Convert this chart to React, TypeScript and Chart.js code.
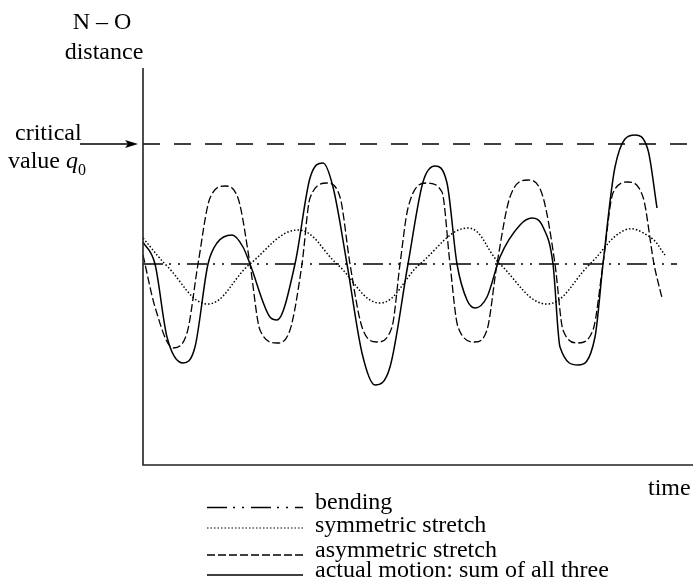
import React, { useEffect, useRef } from "react";
import { Chart, registerables } from "chart.js";

Chart.register(...registerables);

// time axis in arbitrary units, N–O distance in arbitrary units (0 = equilibrium)
const timeRange = [0, 55];
const distanceRange = [-20.1, 19.6];
const criticalValue = 12;

const bendingT = [0, 53.4];
const bendingY = [0, 0];

const symmetricT = [0, 2.4, 6.5, 10.7, 15.5, 19.4, 23.7, 27.7, 32.5, 35.7, 40.4, 44.7, 48.2, 50.7, 52.2];
const symmetricY = [2.6, -0.2, -4.0, 0, 3.4, 0, -3.9, 0, 3.6, 0, -4.0, 0, 3.4, 2.7, 0.9];

const asymmetricT = [0, 1.2, 3.0, 4.4, 5.5, 6.7, 8.2, 9.5, 10.7, 11.7, 13.4, 14.7, 15.9, 16.7, 18.4, 19.7, 20.7, 21.9, 23.4, 24.9, 25.7, 26.5, 28.4, 29.9, 30.7, 31.5, 33.2, 34.4, 35.4, 36.7, 38.5, 40.0, 41.2, 42.0, 43.5, 45.0, 46.0, 47.0, 48.5, 50.0, 51.1, 51.9];
const asymmetricY = [0.9, -4.3, -8.4, -6.9, 0, 6.6, 7.8, 6.6, 0, -6.6, -7.9, -6.6, 0, 6.6, 8.1, 6.7, 0, -6.3, -7.8, -6.3, 0, 5.6, 8.1, 7.2, 0, -6.3, -7.8, -6.6, 0, 6.7, 8.4, 6.7, 0, -6.6, -7.9, -6.6, 0, 7.1, 8.2, 6.7, 0, -3.4];

const actualT = [0, 1.2, 2.4, 4.0, 5.2, 6.5, 7.4, 8.9, 10.0, 10.7, 12.7, 13.4, 15.2, 16.7, 18.0, 19.0, 20.4, 21.9, 23.2, 24.7, 26.5, 28.0, 29.2, 30.4, 31.4, 32.4, 33.2, 34.4, 35.7, 37.7, 38.9, 40.0, 41.0, 41.7, 43.5, 45.2, 46.0, 47.2, 49.2, 50.5, 51.4];
const actualY = [2.2, 0, -7.3, -9.9, -8.3, 0, 2.1, 2.9, 1.7, 0, -5.3, -5.6, 0, 8.6, 10.1, 7.7, 0, -8.9, -12.1, -10.3, 0, 8.2, 9.8, 8.1, 0, -3.6, -4.4, -3.3, 0.7, 3.9, 4.6, 3.7, 0, -8.3, -10.1, -7.3, 0, 9.7, 12.9, 11.4, 5.6];

const legendLabels = ["bending", "symmetric stretch", "asymmetric stretch", "actual motion: sum of all three"];

const toPoints = (xs: number[], ys: number[]) => xs.map((x, i) => ({ x, y: ys[i] }));

const SERIF = '"Liberation Serif", "Times New Roman", serif';

const dashes = {
  bending: [20, 6, 2, 7, 2, 7],
  symmetric: [1.5, 2],
  asymmetric: [8, 3],
  actual: [] as number[],
  critical: [17, 14],
};

const decorPlugin = {
  id: "decor",
  afterDraw(chart: any) {
    const ctx: CanvasRenderingContext2D = chart.ctx;
    const area = chart.chartArea;
    const ys = chart.scales.y;
    ctx.save();
    // axes
    ctx.strokeStyle = "#222";
    ctx.lineWidth = 1.6;
    ctx.setLineDash([]);
    ctx.beginPath();
    ctx.moveTo(area.left, area.top);
    ctx.lineTo(area.left, area.bottom);
    ctx.lineTo(area.right, area.bottom);
    ctx.stroke();

    ctx.fillStyle = "#000";
    ctx.textBaseline = "alphabetic";
    ctx.font = `24px ${SERIF}`;
    ctx.textAlign = "center";
    ctx.fillText("N – O", 102, 29);
    ctx.fillText("distance", 104, 59);

    ctx.textAlign = "left";
    ctx.fillText("critical", 15, 140);
    ctx.fillText("value", 8, 168);
    const qx = 8 + ctx.measureText("value ").width;
    ctx.font = `italic 24px ${SERIF}`;
    ctx.fillText("q", qx, 168);
    const sx = qx + ctx.measureText("q").width;
    ctx.font = `16px ${SERIF}`;
    ctx.fillText("0", sx, 175);

    // arrow to critical value
    const cy = ys.getPixelForValue(criticalValue);
    ctx.lineWidth = 1.3;
    ctx.strokeStyle = "#000";
    ctx.beginPath();
    ctx.moveTo(80, cy);
    ctx.lineTo(130, cy);
    ctx.stroke();
    ctx.beginPath();
    ctx.moveTo(138, cy);
    ctx.lineTo(125, cy - 4);
    ctx.lineTo(128, cy);
    ctx.lineTo(125, cy + 4);
    ctx.closePath();
    ctx.fill();

    ctx.font = `24px ${SERIF}`;
    ctx.fillText("time", 648, 495);

    // legend
    const lineYs = [507.5, 528, 555, 575];
    const textYs = [509, 532, 557, 577];
    const styles = [dashes.bending, dashes.symmetric, dashes.asymmetric, dashes.actual];
    const widths = [1.4, 1.2, 1.3, 1.6];
    legendLabels.forEach((label, i) => {
      ctx.setLineDash(styles[i]);
      ctx.lineWidth = widths[i];
      ctx.strokeStyle = "#000";
      ctx.beginPath();
      ctx.moveTo(207, lineYs[i]);
      ctx.lineTo(303, lineYs[i]);
      ctx.stroke();
      ctx.setLineDash([]);
      ctx.fillText(label, 315, textYs[i]);
    });
    ctx.restore();
  },
};

export default function App() {
  const ref = useRef<HTMLCanvasElement | null>(null);
  useEffect(() => {
    if (!ref.current) return;
    const chart = new Chart(ref.current, {
      type: "line",
      data: {
        datasets: [
          {
            label: "actual motion: sum of all three",
            data: toPoints(actualT, actualY),
            borderColor: "#000",
            borderWidth: 1.5,
            borderDash: dashes.actual,
            cubicInterpolationMode: "monotone",
            pointRadius: 0,
            fill: false,
          },
          {
            label: "asymmetric stretch",
            data: toPoints(asymmetricT, asymmetricY),
            borderColor: "#000",
            borderWidth: 1.3,
            borderDash: dashes.asymmetric,
            cubicInterpolationMode: "monotone",
            pointRadius: 0,
            fill: false,
          },
          {
            label: "symmetric stretch",
            data: toPoints(symmetricT, symmetricY),
            borderColor: "#000",
            borderWidth: 1.5,
            borderDash: dashes.symmetric,
            tension: 0.4,
            pointRadius: 0,
            fill: false,
          },
          {
            label: "bending",
            data: toPoints(bendingT, bendingY),
            borderColor: "#000",
            borderWidth: 1.4,
            borderDash: dashes.bending,
            tension: 0,
            pointRadius: 0,
            fill: false,
          },
          {
            label: "critical value",
            data: toPoints(timeRange, [criticalValue, criticalValue]),
            borderColor: "#000",
            borderWidth: 1.4,
            borderDash: dashes.critical,
            tension: 0,
            pointRadius: 0,
            fill: false,
          },
        ],
      },
      options: {
        animation: false,
        responsive: false,
        layout: { padding: { left: 143, top: 68, right: 0, bottom: 115 } },
        scales: {
          x: { type: "linear", display: false, min: timeRange[0], max: timeRange[1] },
          y: { type: "linear", display: false, min: distanceRange[0], max: distanceRange[1] },
        },
        plugins: { legend: { display: false }, tooltip: { enabled: false } },
      },
      plugins: [decorPlugin],
    });
    return () => chart.destroy();
  }, []);
  return (
    <div style={{ position: "fixed", left: 0, top: 0, width: 693, height: 580, background: "#fff" }}>
      <canvas ref={ref} width={693} height={580} style={{ width: 693, height: 580 }} />
    </div>
  );
}
